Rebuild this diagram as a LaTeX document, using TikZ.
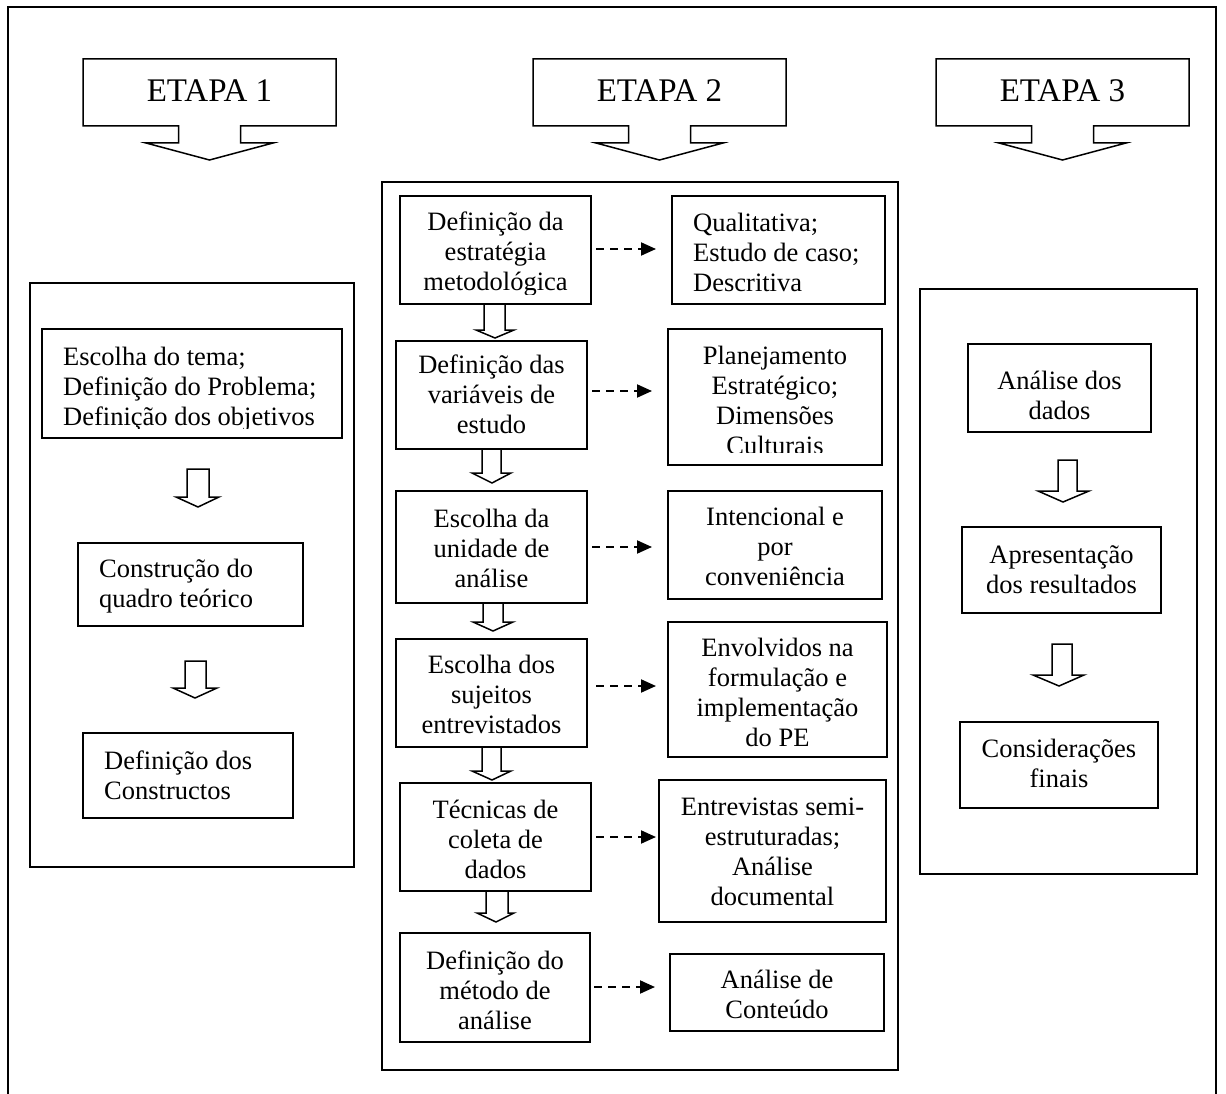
\documentclass[tikz,border=0pt]{standalone}
\usepackage{fontspec}
\setmainfont{Liberation Serif}[Ligatures=CommonOff]
\usetikzlibrary{arrows.meta,fit}

\newcommand\bodysize{\fontsize{26.5}{30}\selectfont}
\newcommand\etapasize{\fontsize{33}{36}\selectfont}
% fixes the height of the first line, so a node's top sits 25pt above its first baseline
\newcommand\txtstrut{\rule{0pt}{25pt}}

% hollow block arrow pointing down:
% stem left x, stem right x, top y, shoulder y, wing left x, wing right x, tip x, tip y
\newcommand\fatdown[8]{%
  \draw[hollowarrow] (#1,#3) -- (#1,#4) -- (#5,#4) -- (#7,#8) -- (#6,#4)
    -- (#2,#4) -- (#2,#3) -- cycle;}

% stage callout: name, centre x, label
\newcommand\etapa[3]{%
  \draw[frame] (#2-126.5,59) -- (#2+126.5,59) -- (#2+126.5,126) -- (#2+31,126)
    -- (#2+31,143) -- (#2+63.5,143) -- (#2,160) -- (#2-63.5,143) -- (#2-31,143)
    -- (#2-31,126) -- (#2-126.5,126) -- cycle;
  \node[etapatxt] (#1) at (#2,102) {#3};}

\begin{document}
\begin{tikzpicture}[x=1pt,y=-1pt,line join=miter,
  frame/.style={draw,line width=1.5pt},
  box/.style={draw,line width=1.5pt,rectangle,inner sep=0pt,outer sep=0pt},
  txt/.style={inner sep=0pt,font=\bodysize},
  ctxt/.style={txt,anchor=north,align=center},
  ltxt/.style={txt,anchor=north west,align=left},
  etapatxt/.style={inner sep=0pt,anchor=base,font=\etapasize},
  hollowarrow/.style={draw,line width=1.5pt,fill=white},
  dasharrow/.style={draw,line width=2pt,dash pattern=on 8pt off 6pt,
    -{Triangle[length=15pt,width=13pt]}}]

\useasboundingbox (0,0) rectangle (1226,1094);

% page frame, open at the bottom
\draw[frame] (8,1094) -- (8,7) -- (1216,7) -- (1216,1094);

% stage headers
\etapa{et1}{209.5}{ETAPA 1}
\etapa{et2}{659.5}{ETAPA 2}
\etapa{et3}{1062.5}{ETAPA 3}

% stage panels
\node[box,fit={(30,283) (354,867)}] (g1) {};
\node[box,fit={(382,182) (898,1070)}] (g2) {};
\node[box,fit={(920,289) (1197,874)}] (g3) {};

% ---------- stage 1 ----------
\node[box,fit={(42,329) (342,438)}] (a1) {};
\begin{scope}
  \clip (42,329) rectangle (342,428);
  \node[ltxt] (a1t) at (63,365-25) {\txtstrut Escolha do tema;\\Definição do Problema;\\Definição dos objetivos};
\end{scope}
\node[box,fit={(78,543) (303,626)}] (a2) {};
\node[ltxt] (a2t) at (99,577-25) {\txtstrut Construção do\\quadro teórico};
\node[box,fit={(83,733) (293,818)}] (a3) {};
\node[ltxt] (a3t) at (104,769-25) {\txtstrut Definição dos\\Constructos};

\fatdown{187}{209}{469}{497}{176}{219}{198}{507}
\fatdown{185}{206}{661}{688}{173}{217}{195}{698}

% ---------- stage 2, left column ----------
\node[box,fit={(400,196) (591,304)}] (m1) {};
\begin{scope}
  \clip (400,196) rectangle (591,294);
  \node[ctxt] (m1t) at (495.5,230-25) {\txtstrut Definição da\\estratégia\\metodológica};
\end{scope}
\node[box,fit={(396,341) (587,449)}] (m2) {};
\node[ctxt] (m2t) at (491.5,373-25) {\txtstrut Definição das\\variáveis de\\estudo};
\node[box,fit={(396,491) (587,603)}] (m3) {};
\node[ctxt] (m3t) at (491.5,527-25) {\txtstrut Escolha da\\unidade de\\análise};
\node[box,fit={(396,639) (587,747)}] (m4) {};
\node[ctxt] (m4t) at (491.5,673-25) {\txtstrut Escolha dos\\sujeitos\\entrevistados};
\node[box,fit={(400,783) (591,891)}] (m5) {};
\node[ctxt] (m5t) at (495.5,818-25) {\txtstrut Técnicas de\\coleta de\\dados};
\node[box,fit={(400,933) (590,1042)}] (m6) {};
\node[ctxt] (m6t) at (495,969-25) {\txtstrut Definição do\\método de\\análise};

% ---------- stage 2, right column ----------
\node[box,fit={(672,196) (885,304)}] (r1) {};
\node[ltxt] (r1t) at (693,231-25) {\txtstrut Qualitativa;\\Estudo de caso;\\Descritiva};
\node[box,fit={(668,329) (882,465)}] (r2) {};
\begin{scope}
  \clip (668,329) rectangle (882,452);
  \node[ctxt] (r2t) at (775,364-25) {\txtstrut Planejamento\\Estratégico;\\Dimensões\\Culturais};
\end{scope}
\node[box,fit={(668,491) (882,599)}] (r3) {};
\node[ctxt] (r3t) at (775,525-25) {\txtstrut Intencional e\\por\\conveniência};
\node[box,fit={(668,622) (887,757)}] (r4) {};
\node[ctxt] (r4t) at (777.5,656-25) {\txtstrut Envolvidos na\\formulação e\\implementação\\do PE};
\node[box,fit={(659,780) (886,922)}] (r5) {};
\node[ctxt] (r5t) at (772.5,815-25) {\txtstrut Entrevistas semi-\\estruturadas;\\Análise\\documental};
\node[box,fit={(670,954) (884,1031)}] (r6) {};
\node[ctxt] (r6t) at (777,988-25) {\txtstrut Análise de\\Conteúdo};

% block arrows down the left column
\fatdown{484}{505}{304}{330}{476}{514}{495}{338}
\fatdown{482}{501}{449}{473}{472}{511}{492}{483}
\fatdown{483}{503}{603}{622}{473}{513}{493}{631}
\fatdown{482}{501}{747}{771}{472}{511}{492}{780}
\fatdown{486}{508}{891}{913}{477}{514}{496}{922}

% dashed links to the right column
\draw[dasharrow] (m1.east) ++(5,-1) -- ++(60,0);
\draw[dasharrow] (m2.east) ++(5,-4) -- ++(60,0);
\draw[dasharrow] (m3.east) ++(5,0) -- ++(60,0);
\draw[dasharrow] (m4.east) ++(9,-7) -- ++(60,0);
\draw[dasharrow] (m5.east) ++(5,0) -- ++(60,0);
\draw[dasharrow] (m6.east) ++(4,-0.5) -- ++(61,0);

% ---------- stage 3 ----------
\node[box,fit={(968,344) (1151,432)}] (e1) {};
\node[ctxt] (e1t) at (1059.5,389-25) {\txtstrut Análise dos\\dados};
\node[box,fit={(962,527) (1161,613)}] (e2) {};
\node[ctxt] (e2t) at (1061.5,563-25) {\txtstrut Apresentação\\dos resultados};
\node[box,fit={(960,722) (1158,808)}] (e3) {};
\node[ctxt] (e3t) at (1059,757-25) {\txtstrut Considerações\\finais};

\fatdown{1058}{1077}{460}{491}{1038}{1089}{1063}{502}
\fatdown{1052}{1072}{644}{675}{1033}{1084}{1059}{686}

\end{tikzpicture}
\end{document}
